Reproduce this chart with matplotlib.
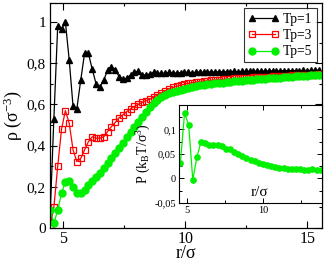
import numpy as np
import matplotlib
matplotlib.use("Agg")
import matplotlib.pyplot as plt
from matplotlib.ticker import MultipleLocator

plt.rcParams['font.family'] = ['Liberation Serif', 'DejaVu Serif']
plt.rcParams['mathtext.fontset'] = 'custom'
plt.rcParams['mathtext.rm'] = 'Liberation Serif'
plt.rcParams['mathtext.it'] = 'Liberation Serif:italic'

# ---- data ----
r_main = [4.47 + 0.157 * i for i in range(71)]

rho_tp1 = [0.05, 0.53, 0.98, 0.965, 1.0, 0.815, 0.59, 0.58, 0.718, 0.848,
           0.848, 0.77, 0.70, 0.686, 0.718, 0.767, 0.783, 0.767, 0.735, 0.722,
           0.727, 0.743, 0.755, 0.762, 0.745, 0.742, 0.748, 0.755, 0.752, 0.750,
           0.752, 0.755, 0.754, 0.752, 0.754, 0.756, 0.755, 0.754, 0.756, 0.757,
           0.756, 0.757, 0.758, 0.757, 0.758, 0.759, 0.758, 0.759, 0.760, 0.759,
           0.760, 0.761, 0.760, 0.761, 0.762, 0.761, 0.762, 0.762, 0.763, 0.762,
           0.763, 0.763, 0.764, 0.763, 0.764, 0.764, 0.765, 0.764, 0.765, 0.765,
           0.766]

rho_tp3 = [0.01, 0.10, 0.30, 0.48, 0.57, 0.508, 0.379, 0.322, 0.338, 0.379,
           0.419, 0.443, 0.436, 0.436, 0.443, 0.468, 0.492, 0.513, 0.535, 0.55,
           0.565, 0.578, 0.59, 0.60, 0.61, 0.618, 0.625, 0.635, 0.645, 0.655,
           0.665, 0.675, 0.682, 0.688, 0.693, 0.698, 0.702, 0.705, 0.708, 0.711,
           0.713, 0.715, 0.717, 0.719, 0.720, 0.722, 0.723, 0.725, 0.726, 0.727,
           0.728, 0.729, 0.730, 0.731, 0.732, 0.733, 0.734, 0.735, 0.736, 0.737,
           0.738, 0.739, 0.740, 0.741, 0.742, 0.743, 0.743, 0.744, 0.745, 0.745,
           0.746]

rho_tp5 = [0.087, 0.023, 0.087, 0.168, 0.225, 0.23, 0.20, 0.168, 0.171, 0.185,
           0.208, 0.227, 0.247, 0.268, 0.292, 0.315, 0.34, 0.365, 0.39, 0.415,
           0.44, 0.465, 0.49, 0.515, 0.54, 0.562, 0.585, 0.605, 0.622, 0.637,
           0.645, 0.655, 0.662, 0.667, 0.672, 0.677, 0.681, 0.685, 0.689, 0.692,
           0.695, 0.698, 0.700, 0.702, 0.704, 0.706, 0.709, 0.711, 0.712, 0.714,
           0.715, 0.717, 0.718, 0.720, 0.721, 0.722, 0.724, 0.726, 0.727, 0.729,
           0.730, 0.732, 0.733, 0.735, 0.736, 0.737, 0.739, 0.740, 0.741, 0.742,
           0.743]

r_inset = [4.58 + 0.27 * i for i in range(35)]
p_tp5 = [0.032, 0.133, 0.11, -0.003, 0.044, 0.075, 0.073, 0.068, 0.068, 0.069,
         0.066, 0.060, 0.061, 0.055, 0.050, 0.045, 0.041, 0.037, 0.035, 0.032,
         0.030, 0.027, 0.025, 0.023, 0.022, 0.021, 0.020, 0.020, 0.019, 0.020,
         0.018, 0.017, 0.019, 0.018, 0.018]

main_yticks = [0, 0.2, 0.4, 0.6, 0.8, 1.0]
main_yticklabels = ['0', '0,2', '0,4', '0,6', '0,8', '1']
main_xticks = [5, 10, 15]
inset_yticks = [-0.05, 0, 0.05, 0.1]
inset_yticklabels = ['-0,05', '0', '0,05', '0,1']
inset_xticks = [5, 10]
legend_labels = ['Tp=1', 'Tp=3', 'Tp=5']

GREEN = '#00f000'

# ---- figure ----
fig = plt.figure(figsize=(3.27, 2.65), dpi=100)
ax = fig.add_axes([0.153, 0.1396, 0.832, 0.849])

ax.plot(r_main, rho_tp1, '-^', color='black', lw=0.9, ms=5, mfc='black', mec='black', label=legend_labels[0])
ax.plot(r_main, rho_tp3, '-s', color='#ff0000', lw=0.9, ms=4.2, mfc='none', mec='#ff0000', mew=0.9, label=legend_labels[1])
ax.plot(r_main, rho_tp5, '-o', color=GREEN, lw=0.9, ms=5, mfc=GREEN, mec=GREEN, label=legend_labels[2])

ax.set_xlim(4.47, 15.6)
ax.set_ylim(0, 1.092)
ax.set_xticks(main_xticks)
ax.xaxis.set_minor_locator(MultipleLocator(2.5))
ax.set_yticks(main_yticks)
ax.set_yticklabels(main_yticklabels)
ax.yaxis.set_minor_locator(MultipleLocator(0.1))
ax.tick_params(which='both', direction='in', top=True, right=True, width=0.8)
ax.tick_params(which='major', length=5)
ax.tick_params(which='minor', length=2.5)
ax.tick_params(axis='x', labelsize=11.5, pad=2)
ax.tick_params(axis='y', labelsize=11, pad=3)
for s in ax.spines.values():
    s.set_linewidth(0.9)

ax.set_xlabel('r/σ', fontsize=13, labelpad=-1)
ax.set_ylabel('ρ (σ$^{-3}$)', fontsize=13, labelpad=2)

leg = ax.legend(loc='upper right', fontsize=9.8, numpoints=2, handlelength=2.3,
                frameon=True, fancybox=False, edgecolor='black', borderpad=0.3,
                labelspacing=0.25, handletextpad=0.3, borderaxespad=0.4)
leg.get_frame().set_linewidth(0.8)

# ---- inset ----
axi = fig.add_axes([0.547, 0.234, 0.438, 0.370])
axi.plot(r_inset, p_tp5, '-o', color=GREEN, lw=0.9, ms=3.8, mfc=GREEN, mec=GREEN)
axi.set_xlim(4.48, 13.85)
axi.set_ylim(-0.05, 0.15)
axi.set_xticks(inset_xticks)
axi.xaxis.set_minor_locator(MultipleLocator(2.5))
axi.set_yticks(inset_yticks)
axi.set_yticklabels(inset_yticklabels)
axi.yaxis.set_minor_locator(MultipleLocator(0.025))
axi.tick_params(which='both', direction='in', top=True, right=True, width=0.7, labelsize=7.5, pad=2)
axi.tick_params(which='major', length=3.5)
axi.tick_params(which='minor', length=2)
for s in axi.spines.values():
    s.set_linewidth(0.8)
axi.set_xlabel('r/σ', fontsize=11)
axi.xaxis.set_label_coords(0.56, 0.17)
axi.set_ylabel('P (k$_{\\mathrm{B}}$T/σ$^{3}$)', fontsize=10, labelpad=1)

fig.savefig('out.png', dpi=100)
